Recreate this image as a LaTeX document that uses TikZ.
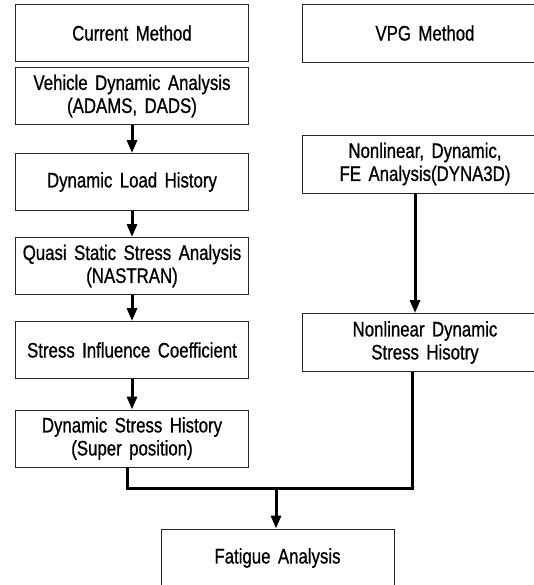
\documentclass[tikz,border=0pt]{standalone}
\usepackage{fontspec}
\setmainfont{Liberation Sans}[FakeStretch=0.8,WordSpace=1.6,FakeBold=0.8]
\usetikzlibrary{arrows.meta}
\begin{document}
\begin{tikzpicture}[x=1pt,y=1pt,
  box/.style={draw=black!85,line width=0.9pt,align=center,inner sep=0pt,
    font=\fontsize{21}{23}\selectfont,text=black},
  lbox/.style={box,minimum width=233pt,minimum height=57pt},
  rbox/.style={box,minimum width=246pt,minimum height=58pt},
  flow/.style={line width=3pt,draw=black},
  arr/.style={flow,-{Triangle[length=13pt,width=10pt]}}]
\clip (0,0) rectangle (534,-585);
\fill[white] (0,0) rectangle (534,-585);
% left column
\node[lbox] (b1) at (132,-33) {Current Method};
\node[lbox] (b2) at (132,-96) {Vehicle Dynamic Analysis\\(ADAMS, DADS)};
\node[lbox] (b3) at (132,-182) {Dynamic Load History};
\node[lbox] (b4) at (132,-266) {Quasi Static Stress Analysis\\(NASTRAN)};
\node[lbox] (b5) at (132,-350) {Stress Influence Coefficient};
\node[lbox] (b6) at (132,-438.5) {Dynamic Stress History\\(Super position)};
% right column
\node[rbox] (r1) at (425,-33) {VPG Method};
\node[rbox] (r2) at (425,-164) {Nonlinear, Dynamic,\\FE Analysis(DYNA3D)};
\node[rbox] (r3) at (425,-342.5) {Nonlinear Dynamic\\Stress Hisotry};
% bottom
\node[box,minimum width=233pt,minimum height=58pt] (f) at (277.5,-558) {Fatigue Analysis};
% helper coordinates
\coordinate (xa) at (132,0);
\coordinate (xr) at (415,0);
\coordinate (xl) at (127,0);
\coordinate (xq) at (412,0);
\coordinate (xm) at (276,0);
\coordinate (jy) at (0,-488);
% arrows
\draw[arr] (b2.south -| xa) -- (b3.north -| xa);
\draw[arr] (b3.south -| xa) -- (b4.north -| xa);
\draw[arr] (b4.south -| xa) -- (b5.north -| xa);
\draw[arr] (b5.south -| xa) -- (b6.north -| xa);
\draw[arr] (r2.south -| xr) -- (r3.north -| xr);
\draw[flow,line join=miter] (b6.south -| xl) -- (xl |- jy) -- (xq |- jy) -- (r3.south -| xq);
\draw[arr] (xm |- jy) -- (f.north -| xm);
\end{tikzpicture}
\end{document}
